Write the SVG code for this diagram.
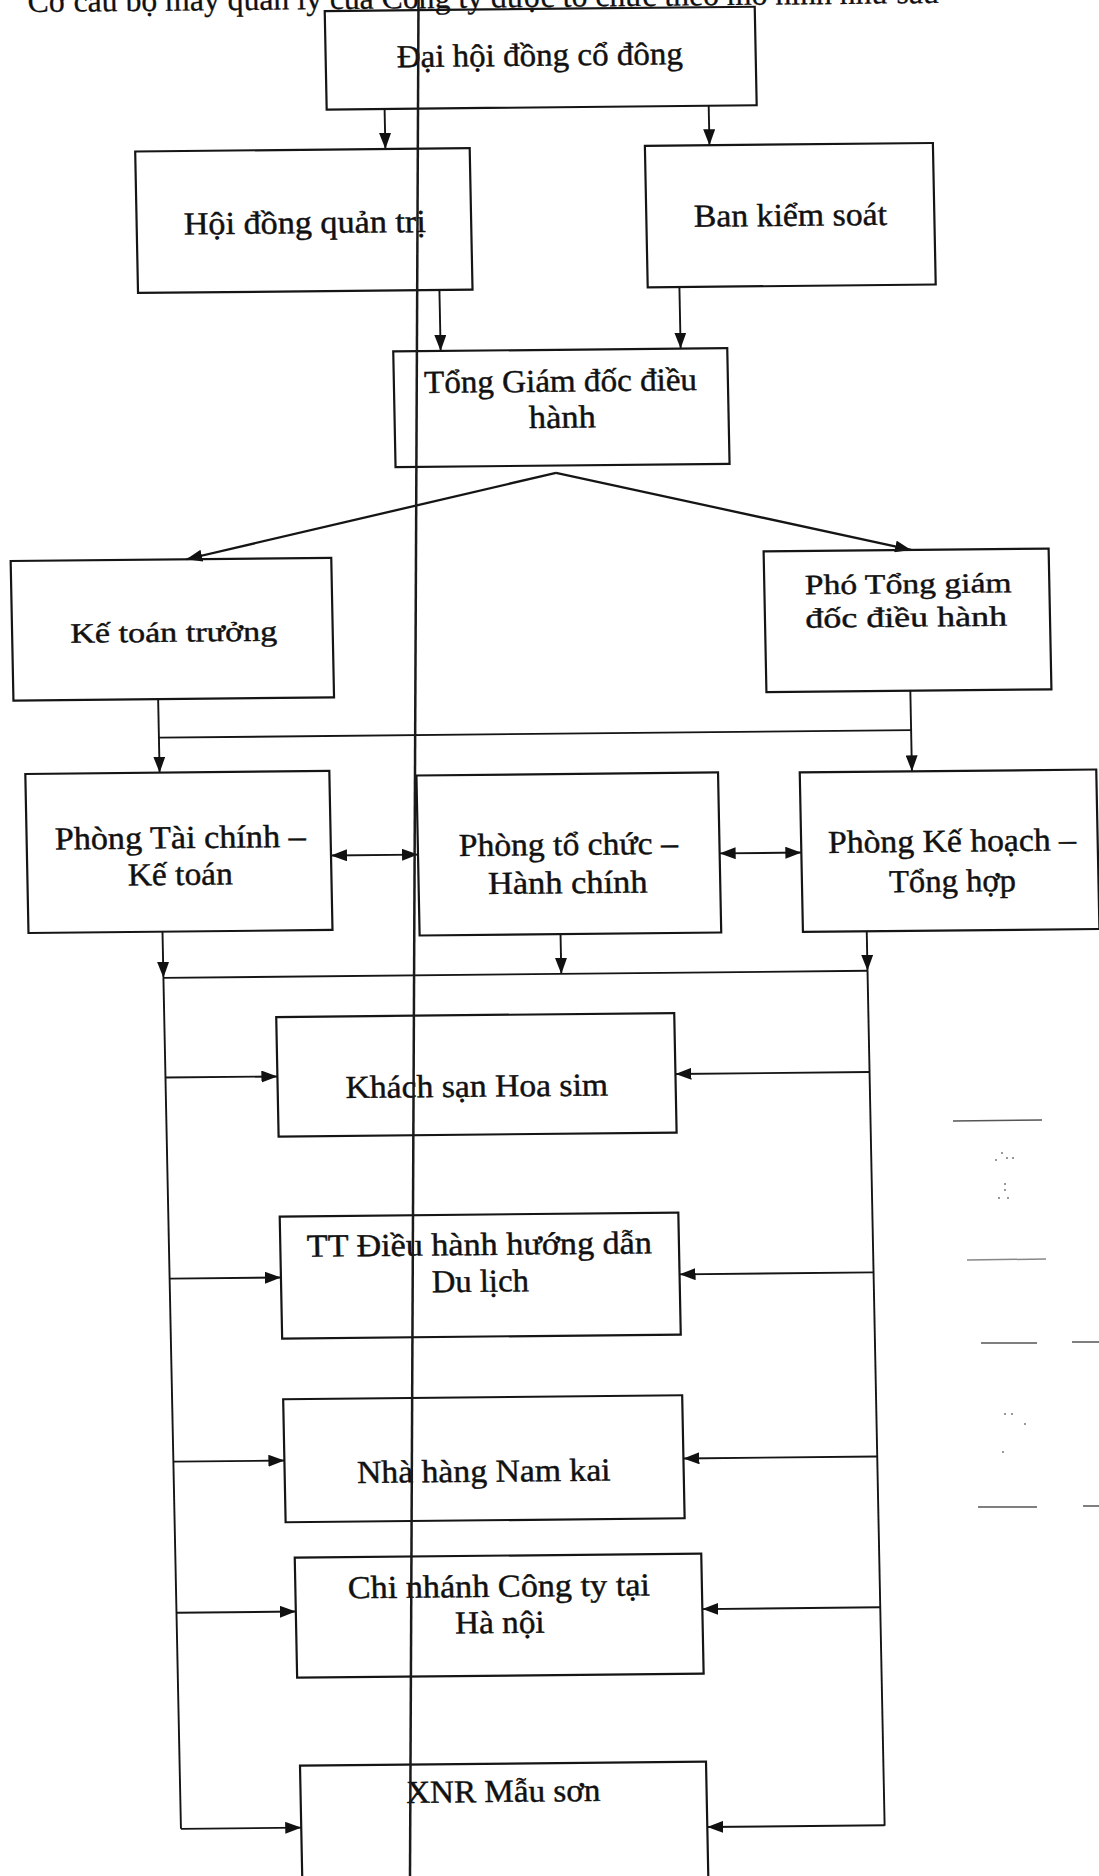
<svg xmlns="http://www.w3.org/2000/svg" width="1099" height="1876" viewBox="0 0 1099 1876">
<style>
.box{fill:none;stroke:#151515;stroke-width:2.2}
.t{font-family:"Liberation Serif","Times New Roman",serif;font-size:32px;fill:#111;stroke:#111;stroke-width:0.45;text-anchor:middle}
.s{font-size:28px}
.h{font-family:"Liberation Serif","Times New Roman",serif;font-size:32px;fill:#111;stroke:#111;stroke-width:0.3}
.c{fill:none;stroke:#151515;stroke-width:1.9}
.a{marker-end:url(#ah)}
.d{marker-start:url(#ah);marker-end:url(#ah)}
.m{stroke:#555;stroke-width:1.5}
.p{fill:#777}
</style>
<defs>
<marker id="ah" viewBox="0 0 16 12" refX="16" refY="6" markerWidth="16" markerHeight="12" markerUnits="userSpaceOnUse" orient="auto-start-reverse">
<path d="M0,0 L16,6 L0,12 z" fill="#111"/>
</marker>
</defs>
<rect width="1099" height="1876" fill="#fff"/>
<g transform="matrix(1 -0.01 0.02 1 -18.76 5.49)">
<text class="h" x="46.5" y="7" textLength="911" lengthAdjust="spacingAndGlyphs">Cơ cấu bộ máy quản lý của Công ty được tổ chức theo mô hình như sau</text>
<g id="connectors">
<line class="c a" x1="401.2" y1="107.5" x2="401.2" y2="147.5"/>
<line class="c a" x1="725.3" y1="107.5" x2="725.3" y2="147"/>
<line class="c a" x1="452.4" y1="289" x2="452.4" y2="350"/>
<line class="c a" x1="692.4" y1="288.5" x2="692.4" y2="350"/>
<line class="c a" x1="565.3" y1="473" x2="194" y2="555.7" style="stroke-width:2.3"/>
<line class="c a" x1="565.3" y1="473" x2="918.8" y2="553.6" style="stroke-width:2.3"/>
<line class="c a" x1="163" y1="694.5" x2="163" y2="768.8"/>
<line class="c" x1="163" y1="733.8" x2="915.2" y2="733.8"/>
<line class="c a" x1="915.2" y1="694.4" x2="915.2" y2="775"/>
<line class="c d" x1="332.7" y1="853.3" x2="419.7" y2="853.3"/>
<line class="c d" x1="721.3" y1="855.1" x2="803" y2="855.1"/>
<line class="c a" x1="162.7" y1="927.8" x2="162.7" y2="974"/>
<line class="c a" x1="560.6" y1="934.2" x2="560.6" y2="974"/>
<line class="c a" x1="866.8" y1="934.5" x2="866.8" y2="974"/>
<line class="c" x1="162.7" y1="974" x2="866.8" y2="974"/>
<line class="c" x1="162.7" y1="974" x2="163.2" y2="1825"/>
<line class="c" x1="866.8" y1="974" x2="866.8" y2="1829"/>
<line class="c a" x1="162.9" y1="1073.7" x2="274.7" y2="1073.7"/>
<line class="c a" x1="163" y1="1274.8" x2="274.2" y2="1274.8"/>
<line class="c a" x1="163" y1="1457.8" x2="274" y2="1457.8"/>
<line class="c a" x1="163.1" y1="1608.9" x2="282.4" y2="1608.9"/>
<line class="c a" x1="163.2" y1="1825" x2="283.5" y2="1825"/>
<line class="c a" x1="866.8" y1="1075.2" x2="672.7" y2="1075.2"/>
<line class="c a" x1="866.8" y1="1275.6" x2="672.8" y2="1275.6"/>
<line class="c a" x1="866.8" y1="1459.7" x2="673" y2="1459.7"/>
<line class="c a" x1="866.8" y1="1610.5" x2="688.9" y2="1610.5"/>
<line class="c a" x1="866.8" y1="1828.4" x2="689.5" y2="1828.4"/>
</g>
<g id="dhdcd"><rect class="box" x="343.3" y="9" width="430" height="98.5"/><text class="t" x="557.4" y="65.8" textLength="286" lengthAdjust="spacingAndGlyphs">Đại hội đồng cổ đông</text></g>
<g id="hdqt"><rect class="box" x="151" y="147.5" width="334.5" height="141.5"/><text class="t" x="319.1" y="230.9" textLength="242" lengthAdjust="spacingAndGlyphs">Hội đồng quản trị</text></g>
<g id="bks"><rect class="box" x="660.7" y="147" width="288" height="141.5"/><text class="t" x="804.8" y="228.4" textLength="193" lengthAdjust="spacingAndGlyphs">Ban kiểm soát</text></g>
<g id="tgd"><rect class="box" x="405" y="350" width="334" height="115.7"/><text class="t" x="571.6" y="391.8" textLength="273" lengthAdjust="spacingAndGlyphs">Tổng Giám đốc điều</text><text class="t" x="572.7" y="428" textLength="67" lengthAdjust="spacingAndGlyphs">hành</text></g>
<g id="ktt"><rect class="box" x="18.3" y="555.7" width="320.6" height="139.6"/><text class="t s" x="179.9" y="638" textLength="207" lengthAdjust="spacingAndGlyphs">Kế toán trưởng</text></g>
<g id="ptgd"><rect class="box" x="771.3" y="553.6" width="285" height="140.8"/><text class="t s" x="915.2" y="596.9" textLength="206.7" lengthAdjust="spacingAndGlyphs">Phó Tổng giám</text><text class="t s" x="912.5" y="630.3" textLength="201.7" lengthAdjust="spacingAndGlyphs">đốc điều hành</text></g>
<g id="ptckt"><rect class="box" x="28.7" y="768.8" width="304" height="159"/><text class="t" x="182.3" y="844.5" textLength="251" lengthAdjust="spacingAndGlyphs">Phòng Tài chính –</text><text class="t" x="181.6" y="881.2" textLength="105" lengthAdjust="spacingAndGlyphs">Kế toán</text></g>
<g id="ptchc"><rect class="box" x="419.7" y="774.2" width="301.6" height="160"/><text class="t" x="570.1" y="855.2" textLength="219" lengthAdjust="spacingAndGlyphs">Phòng tổ chức –</text><text class="t" x="568.9" y="893.5" textLength="159.5" lengthAdjust="spacingAndGlyphs">Hành chính</text></g>
<g id="pkhth"><rect class="box" x="803" y="775" width="296.5" height="159.5"/><text class="t" x="953.8" y="855.7" textLength="248" lengthAdjust="spacingAndGlyphs">Phòng Kế hoạch –</text><text class="t" x="953.5" y="895.7" textLength="127" lengthAdjust="spacingAndGlyphs">Tổng hợp</text></g>
<g id="kshs"><rect class="box" x="274.7" y="1014.3" width="398" height="119.5"/><text class="t" x="473.8" y="1096" textLength="262.5" lengthAdjust="spacingAndGlyphs">Khách sạn Hoa sim</text></g>
<g id="ttdh"><rect class="box" x="274.2" y="1213.8" width="398.6" height="122"/><text class="t" x="473.2" y="1254.3" textLength="345" lengthAdjust="spacingAndGlyphs">TT Điều hành hướng dẫn</text><text class="t" x="473.4" y="1291" textLength="97" lengthAdjust="spacingAndGlyphs">Du lịch</text></g>
<g id="nhnk"><rect class="box" x="274" y="1396.5" width="399" height="123"/><text class="t" x="473.1" y="1481" textLength="253.5" lengthAdjust="spacingAndGlyphs">Nhà hàng Nam kai</text></g>
<g id="cnhn"><rect class="box" x="282.4" y="1555" width="406.5" height="120"/><text class="t" x="485.9" y="1596.2" textLength="302" lengthAdjust="spacingAndGlyphs">Chi nhánh Công ty tại</text><text class="t" x="486.1" y="1632.5" textLength="89.5" lengthAdjust="spacingAndGlyphs">Hà nội</text></g>
<g id="xnr"><rect class="box" x="283.5" y="1763" width="406" height="200"/><text class="t" x="486.2" y="1801.3" textLength="194" lengthAdjust="spacingAndGlyphs">XNR Mẫu sơn</text></g>
</g>
<line x1="418.5" y1="0" x2="410" y2="1876" stroke="#1a1a1a" stroke-width="2.5"/>
<line class="m" x1="953" y1="1121" x2="1042" y2="1120"/>
<line class="m" x1="967" y1="1260" x2="1046" y2="1259" style="stroke:#888"/>
<line class="m" x1="981" y1="1343" x2="1037" y2="1343"/>
<line class="m" x1="1072" y1="1342" x2="1099" y2="1342"/>
<line class="m" x1="978" y1="1507" x2="1037" y2="1507"/>
<line class="m" x1="1083" y1="1506" x2="1099" y2="1506"/>
<circle class="p" cx="1002" cy="1153" r="1"/><circle class="p" cx="1007" cy="1158" r="1"/><circle class="p" cx="1013" cy="1158" r="1"/><circle class="p" cx="996" cy="1160" r="1"/>
<circle class="p" cx="1005" cy="1184" r="1"/><circle class="p" cx="1005" cy="1190" r="1"/><circle class="p" cx="999" cy="1198" r="1"/><circle class="p" cx="1008" cy="1198" r="1"/>
<circle class="p" cx="1005" cy="1414" r="1"/><circle class="p" cx="1012" cy="1414" r="1"/><circle class="p" cx="1025" cy="1424" r="1"/><circle class="p" cx="1003" cy="1452" r="1"/>
</svg>
